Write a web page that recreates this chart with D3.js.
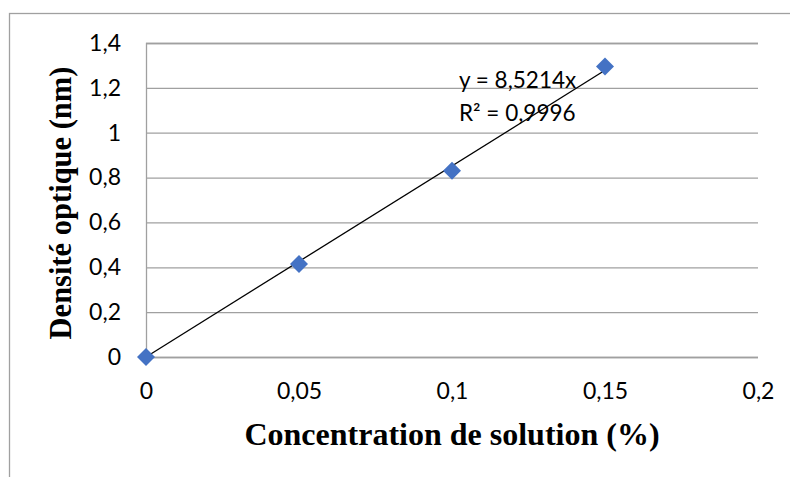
<!DOCTYPE html>
<html>
<head>
<meta charset="utf-8">
<script src="https://cdn.jsdelivr.net/npm/d3@7"></script>
<style>
  html, body { margin: 0; padding: 0; background: #fff; }
  svg { display: block; }
</style>
</head>
<body>
<svg id="chart" width="790" height="477"></svg>
<script>
// Calibration data: optical density vs. solution concentration
const concentrations = [0, 0.05, 0.1, 0.15];
const densities = [0, 0.415, 0.83, 1.295];
const slope = 8.5214;
const r2Label = "R² = 0,9996";
const eqLabel = "y = 8,5214x";
const xTicks = [0, 0.05, 0.1, 0.15, 0.2];
const yTicks = [0, 0.2, 0.4, 0.6, 0.8, 1, 1.2, 1.4];
const xTitle = "Concentration de solution (%)";
const yTitle = "Densité optique (nm)";

const svg = d3.select("#chart");
const W = 790, H = 477;
const plot = { left: 146, right: 758, top: 43, bottom: 357 };
const sans = "Lato, 'Open Sans', sans-serif";
const serif = "'Liberation Serif', 'Times New Roman', serif";

const fmt = v => String(+v.toFixed(2)).replace(".", ",");

const x = d3.scaleLinear().domain([0, 0.2]).range([plot.left, plot.right]);
const y = d3.scaleLinear().domain([0, 1.4]).range([plot.bottom, plot.top]);

svg.append("rect").attr("width", W).attr("height", H).attr("fill", "#fff");

// chart frame
svg.append("rect")
  .attr("x", 9.5).attr("y", 13.5)
  .attr("width", W + 20).attr("height", H + 20)
  .attr("fill", "none").attr("stroke", "#a0a0a0").attr("stroke-width", 1.3);

// horizontal gridlines and value labels
const yAxis = d3.axisLeft(y).tickValues(yTicks).tickSize(-(plot.right - plot.left)).tickFormat(fmt).tickPadding(25);
const gy = svg.append("g").attr("transform", `translate(${plot.left},0)`).call(yAxis);
gy.select(".domain").attr("stroke", "#a0a0a0").attr("stroke-width", 1.3);
gy.selectAll(".tick line").attr("stroke", "#a0a0a0").attr("stroke-width", 1.3);
gy.selectAll(".tick text")
  .attr("font-family", sans).attr("font-size", 23).attr("fill", "#000");

const xAxis = d3.axisBottom(x).tickValues(xTicks).tickSize(0).tickFormat(fmt).tickPadding(26);
const gx = svg.append("g").attr("transform", `translate(0,${plot.bottom})`).call(xAxis);
gx.select(".domain").remove();
gx.selectAll(".tick text")
  .attr("font-family", sans).attr("font-size", 23).attr("fill", "#000");

// linear trendline through origin
svg.append("line")
  .attr("x1", x(0)).attr("y1", y(0))
  .attr("x2", x(0.15)).attr("y2", y(slope * 0.15))
  .attr("stroke", "#000").attr("stroke-width", 1.3);

// data markers
const pts = concentrations.map((c, i) => ({ c, d: densities[i] }));
svg.append("g").selectAll("path").data(pts).join("path")
  .attr("transform", p => `translate(${x(p.c)},${y(p.d)})`)
  .attr("d", "M0,-9L9,0L0,9L-9,0Z")
  .attr("fill", "#4472c4");

// regression equation
const eq = svg.append("text")
  .attr("font-family", sans).attr("font-size", 22.5).attr("fill", "#000");
eq.append("tspan").attr("x", 459).attr("y", 88).text(eqLabel);
eq.append("tspan").attr("x", 459).attr("y", 121).text(r2Label);

// axis titles
svg.append("text")
  .attr("x", 452).attr("y", 445).attr("text-anchor", "middle")
  .attr("font-family", serif)
  .attr("font-weight", "bold").attr("font-size", 32).attr("fill", "#000")
  .text(xTitle);

svg.append("text")
  .attr("transform", "translate(71,203) rotate(-90)").attr("text-anchor", "middle")
  .attr("font-family", serif)
  .attr("font-weight", "bold").attr("font-size", 30.5).attr("fill", "#000")
  .text(yTitle);
</script>
</body>
</html>
